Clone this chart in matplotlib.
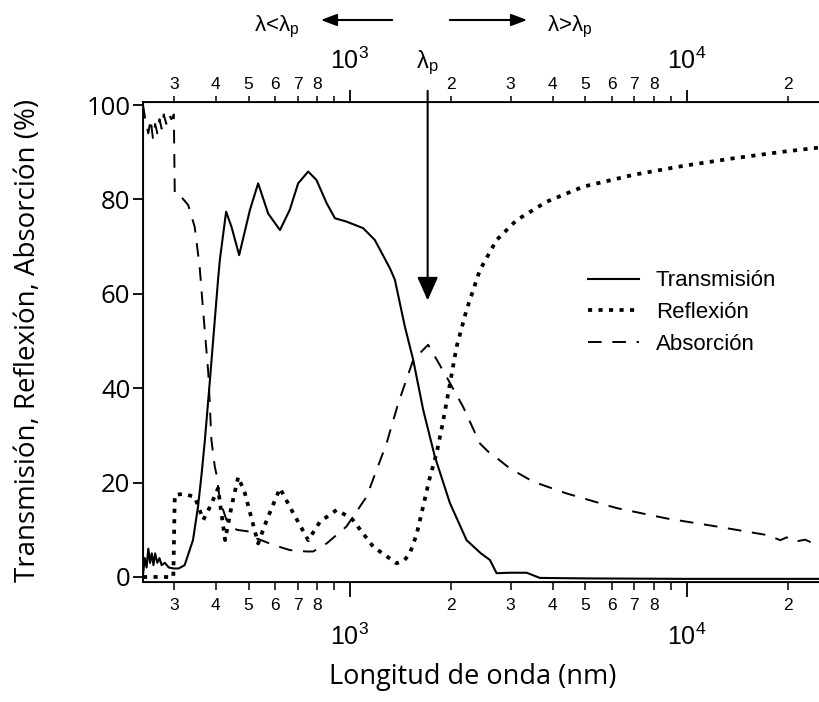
import matplotlib
matplotlib.use("Agg")
import matplotlib.pyplot as plt
from matplotlib.patches import FancyArrowPatch
from matplotlib.ticker import FixedLocator, FixedFormatter

plt.rcParams["mathtext.fontset"] = "custom"
plt.rcParams["mathtext.rm"] = "Liberation Sans"
plt.rcParams["mathtext.it"] = "Liberation Sans:italic"

# ------------------------------------------------------------
# Data
# ------------------------------------------------------------
trans_nm = [243, 246, 249, 252, 255, 258, 261, 264, 268, 272, 276, 282, 290, 300,
            310, 323, 342, 354, 363, 371, 384, 406, 411, 429, 445, 469, 505, 534,
            572, 620, 663, 702, 752, 796, 853, 903, 977, 1095, 1186, 1315, 1360,
            1457, 1542, 1651, 1788, 1981, 2221, 2450, 2606, 2727, 3000, 3350,
            3666, 5000, 10000, 25000]
trans_pct = [0.5, 4, 2, 6, 3, 5, 2.5, 5, 3, 4, 2.5, 3, 2, 1.8,
             1.8, 2.5, 7.8, 14.9, 22, 29, 41.7, 63, 67.2, 77.4, 74.2, 68.2, 77.8, 83.4,
             77, 73.5, 77.8, 83.4, 85.9, 84.1, 79.2, 76, 75.3, 73.9, 71.4, 65.4, 63,
             53, 46, 35.4, 25.5, 15.7, 7.8, 5, 3.6, 0.8, 0.9, 0.9,
             -0.2, -0.3, -0.4, -0.4]

refl_nm = [243, 299, 302, 320, 346, 367, 385, 406, 426, 445, 466, 488, 534, 566,
           620, 671, 752, 815, 913, 1012, 1173, 1376, 1450, 1507, 1578, 1651,
           1720, 1809, 1880, 1959, 2075, 2221, 2432, 2727, 3127, 3837, 4932,
           6940, 9773, 13750, 19360, 24900]
refl_pct = [0, 0, 17.4, 17.6, 17, 12.1, 15, 18.8, 7.8, 14.9, 21.2, 17.7, 7.1, 12,
            18.8, 14.2, 7.8, 11.7, 14.2, 12.4, 6.4, 2.9, 3.5, 5, 9, 15,
            20.5, 26.2, 32, 38.9, 48.8, 56.6, 65, 71.4, 75.6, 79.5, 82.7,
            85.2, 87.1, 88.7, 90.1, 91]

abs_nm = [243, 248, 252, 256, 260, 264, 268, 272, 276, 280, 285, 290, 295, 300,
          302, 316, 331, 346, 358, 367, 380, 388, 397, 402, 411, 430, 461, 505,
          528, 592, 663, 743, 778, 853, 977, 1121, 1285, 1392, 1542, 1708, 1937,
          2171, 2432, 2580, 2666, 2986, 3500, 4401, 6195, 8722, 12280, 17280,
          19000, 19820, 21000, 22500, 24320]
abs_pct = [100, 96, 94, 97, 93, 96, 94, 97, 95, 98, 96, 98, 97, 98,
           81, 80.5, 78.8, 74.2, 65.7, 56, 43, 29, 23.4, 21.6, 16.3, 12.1, 10, 9.6,
           8.2, 6.8, 5.7, 5.4, 5.4, 7.1, 10.7, 17, 28.3, 36.8, 46, 49.2, 42.4,
           36, 28.3, 26.5, 25.8, 23, 20.2, 17.7, 14.6, 12.4, 10.7, 8.9,
           7.8, 8.4, 7.5, 7.9, 6.8]

lambda_p = 1702
arrow_tip = 58

minor_ticks = [300, 400, 500, 600, 700, 800, 900,
               2000, 3000, 4000, 5000, 6000, 7000, 8000, 9000, 20000]
minor_labels = ["3", "4", "5", "6", "7", "8", "",
                "2", "3", "4", "5", "6", "7", "8", "", "2"]
major_ticks = [1000, 10000]
major_labels = ["$10^3$", "$10^4$"]

# ------------------------------------------------------------
# Figure
# ------------------------------------------------------------
fig = plt.figure(figsize=(8.2, 7.02), dpi=100)
ax = fig.add_axes([143 / 820, 1 - 581.7 / 702, 1 - 143 / 820, (581.7 - 101.7) / 702])

ax.plot(trans_nm, trans_pct, color="black", lw=1.5, label="Transmisión")
ax.plot(refl_nm, refl_pct, color="black", lw=2.7, linestyle=(0, (1.1, 1.7)),
        label="Reflexión")
ax.plot(abs_nm, abs_pct, color="black", lw=1.4, linestyle=(0, (7, 5.5)),
        label="Absorción")

ax.set_xscale("log")
ax.set_xlim(243, 24900)
ax.set_ylim(-1, 100.7)

for side in ["left", "top", "bottom"]:
    ax.spines[side].set_linewidth(1.3)
ax.spines["right"].set_visible(False)

# y axis
ax.set_yticks([0, 20, 40, 60, 80, 100])
ax.tick_params(axis="y", direction="out", length=7, width=1.3, labelsize=18.5, pad=2)
for t in ax.get_yticklabels():
    t.set_fontfamily("Open Sans")

# bottom x axis
ax.xaxis.set_major_locator(FixedLocator(major_ticks))
ax.xaxis.set_major_formatter(FixedFormatter(major_labels))
ax.xaxis.set_minor_locator(FixedLocator(minor_ticks))
ax.xaxis.set_minor_formatter(FixedFormatter(minor_labels))
ax.tick_params(axis="x", which="major", direction="out", length=11, width=1.3,
               labelsize=18, pad=19)
ax.tick_params(axis="x", which="minor", direction="out", length=5.5, width=1.1,
               labelsize=12.5, pad=6)
for t in ax.xaxis.get_ticklabels(which="both"):
    t.set_fontfamily("Liberation Sans")

# top x axis
top = ax.twiny()
top.set_xscale("log")
top.set_xlim(ax.get_xlim())
top.spines["right"].set_visible(False)
top.xaxis.set_major_locator(FixedLocator(major_ticks))
top.xaxis.set_major_formatter(FixedFormatter(major_labels))
top.xaxis.set_minor_locator(FixedLocator(minor_ticks))
top.xaxis.set_minor_formatter(FixedFormatter(minor_labels))
top.tick_params(axis="x", which="major", direction="out", length=9, width=1.3,
                labelsize=18, pad=11)
top.tick_params(axis="x", which="minor", direction="out", length=4, width=1.1,
                labelsize=12.5, pad=3)
for t in top.xaxis.get_ticklabels(which="both"):
    t.set_fontfamily("Liberation Sans")

# axis labels
fig.text(473 / 820, 1 - 677 / 702, "Longitud de onda (nm)", ha="center", va="center",
         fontsize=19.5, fontfamily="Open Sans")
fig.text(28 / 820, 1 - 340 / 702, "Transmisión, Reflexión, Absorción (%)",
         rotation=90, ha="center", va="center", fontsize=20, fontfamily="Open Sans")

# lambda_p arrow
ax.annotate("", xy=(lambda_p, arrow_tip), xytext=(lambda_p, 103.6),
            arrowprops=dict(arrowstyle="-|>,head_length=0.9,head_width=0.4",
                            color="black", lw=1.5, mutation_scale=16),
            annotation_clip=False)
ax.text(lambda_p, 109, r"λ$_\mathrm{p}$", ha="center", va="center", fontsize=17,
        fontfamily="Liberation Sans")

# top direction arrows
fig.text(277 / 820, 1 - 27 / 702, r"λ<λ$_\mathrm{p}$", ha="center", va="center",
         fontsize=16, fontfamily="Liberation Sans")
fig.text(570 / 820, 1 - 27 / 702, r"λ>λ$_\mathrm{p}$", ha="center", va="center",
         fontsize=16, fontfamily="Liberation Sans")
arrow_kw = dict(arrowstyle="-|>,head_length=0.8,head_width=0.3", color="black",
                lw=1.5, mutation_scale=12, transform=fig.transFigure)
fig.add_artist(FancyArrowPatch((395 / 820, 1 - 20 / 702), (318 / 820, 1 - 20 / 702),
                               **arrow_kw))
fig.add_artist(FancyArrowPatch((447 / 820, 1 - 20 / 702), (530 / 820, 1 - 20 / 702),
                               **arrow_kw))

# legend
leg = ax.legend(loc="upper left", bbox_to_anchor=(0.628, 0.69), frameon=False,
                handlelength=2.3, handletextpad=0.75, labelspacing=0.48,
                prop={"family": "Liberation Sans", "size": 16})

fig.savefig("out.png", dpi=100)
